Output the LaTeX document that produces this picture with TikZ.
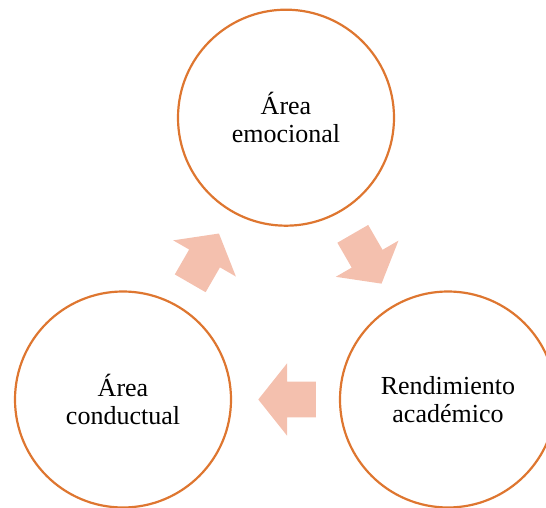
\documentclass[tikz,border=0pt]{standalone}
\usepackage{fontspec}
\setmainfont{Liberation Serif}
\usepackage{tikz}
\usetikzlibrary{shapes.arrows,calc}

\definecolor{naranja}{RGB}{222,118,48}
\definecolor{salmon}{RGB}{244,192,174}

\begin{document}
\begin{tikzpicture}[x=1pt,y=1pt,
  area/.style={circle,draw=naranja,line width=2.2pt,minimum size=216pt,inner sep=0pt,
    align=center,font=\fontsize{26}{28.5}\selectfont},
  flecha/.style={single arrow,fill=salmon,draw=none,minimum height=57.5pt,
    inner xsep=0pt,inner ysep=17.6pt,single arrow head extend=18.4pt,
    single arrow tip angle=103,anchor=tail}]
\useasboundingbox (0,0) rectangle (546,507);
\node[area] (emo) at (286,389.3) {Área\\emocional};
\node[area] (cond) at (123,107.5) {Área\\conductual};
\node[area] (rend) at (448,107.5) {Rendimiento\\académico};
\node[flecha,rotate=60] (f1) at ($($(cond)!0.5!(emo)$)!28.75pt!(cond)$) {};
\node[flecha,rotate=-60] (f2) at ($($(emo)!0.5!(rend)$)!28.75pt!(emo)$) {};
\node[flecha,rotate=180] (f3) at ($($(rend)!0.5!(cond)$)!30.5pt!(rend)$) {};
\end{tikzpicture}
\end{document}
